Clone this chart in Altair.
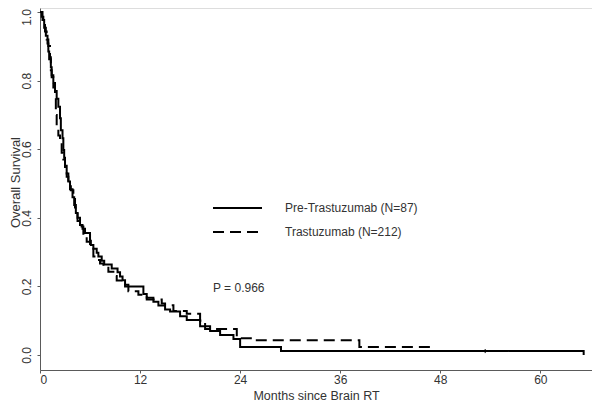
import altair as alt
import pandas as pd

# Pre-Trastuzumab (N=87): step curve (months, survival)
pre_months = [0, 0.3, 0.5, 0.7, 0.9, 1.0, 1.1, 1.3, 1.4, 1.6, 1.8, 2.0, 2.2, 2.4, 2.5, 2.7,
              2.8, 2.9, 3.0, 3.2, 3.4, 3.6, 3.9, 4.1, 4.3, 4.5, 4.8, 5.1, 5.4, 6.0, 6.1,
              6.4, 6.8, 7.0, 7.4, 7.7, 8.6, 9.3, 9.6, 9.9, 10.2, 12.4, 12.8, 13.6, 14.2,
              15.0, 15.6, 16.8, 17.6, 19.2, 20.4, 21.6, 23.2, 24.0, 28.9, 65.2]
pre_surv = [1.0, 0.977, 0.954, 0.931, 0.908, 0.885, 0.862, 0.839, 0.816, 0.793, 0.770, 0.747,
            0.724, 0.690, 0.655, 0.632, 0.598, 0.575, 0.552, 0.529, 0.506, 0.483, 0.460,
            0.437, 0.414, 0.391, 0.379, 0.368, 0.356, 0.333, 0.321, 0.310, 0.298, 0.287,
            0.275, 0.264, 0.252, 0.241, 0.229, 0.218, 0.200, 0.178, 0.167, 0.155, 0.144,
            0.133, 0.127, 0.113, 0.102, 0.084, 0.070, 0.058, 0.047, 0.023, 0.0115, 0.0]

# Trastuzumab (N=212)
tra_months = [0, 0.2, 0.4, 0.6, 0.8, 1.0, 1.2, 1.3, 1.4, 1.6, 1.8, 1.9, 2.0, 2.2, 2.4, 2.6,
              2.8, 3.0, 3.2, 3.4, 3.7, 4.0, 4.2, 4.5, 4.8, 5.2, 5.6, 6.0, 6.4, 6.8, 7.2,
              7.6, 8.2, 8.8, 9.2, 10.0, 10.6, 11.8, 12.8, 14.6, 15.0, 16.0, 17.6, 19.2,
              19.8, 23.6, 26.0, 38.3, 46.8]
tra_surv = [1.0, 0.986, 0.967, 0.943, 0.920, 0.901, 0.868, 0.830, 0.810, 0.780, 0.755, 0.700,
            0.667, 0.640, 0.620, 0.590, 0.570, 0.545, 0.520, 0.500, 0.480, 0.455, 0.430,
            0.400, 0.375, 0.345, 0.330, 0.316, 0.287, 0.277, 0.267, 0.258, 0.243, 0.230,
            0.217, 0.205, 0.186, 0.176, 0.162, 0.150, 0.145, 0.128, 0.120, 0.100, 0.076,
            0.049, 0.043, 0.023, 0.023]

censor_months = [53.4]
censor_surv = [0.0115]

groups = ["Pre-Trastuzumab (N=87)", "Trastuzumab (N=212)"]
x_ticks = [0, 12, 24, 36, 48, 60]
y_ticks = [0.0, 0.2, 0.4, 0.6, 0.8, 1.0]
p_text = "P = 0.966"

df = pd.concat([
    pd.DataFrame({"month": pre_months, "surv": pre_surv, "group": groups[0]}),
    pd.DataFrame({"month": tra_months, "surv": tra_surv, "group": groups[1]}),
])
cens = pd.DataFrame({"month": censor_months, "surv": censor_surv})

FONT = "Liberation Sans"
AX = "#5a5a5a"
TXT = "#333333"

xscale = alt.Scale(domain=[0, 66.2], nice=False, zero=False)
yscale = alt.Scale(domain=[-0.0437, 1.0117], nice=False, zero=False)

xaxis = alt.Axis(values=x_ticks, title="Months since Brain RT", grid=False, domainColor=AX,
                 tickColor=AX, tickSize=3, labelColor=TXT, labelFont=FONT, labelFontSize=12,
                 labelPadding=1.5, titleFont=FONT, titleFontSize=12.5, titleFontWeight="normal",
                 titleColor=TXT, titleY=29.5, titleBaseline="alphabetic")
yaxis = alt.Axis(values=y_ticks, format=".1f", title="Overall Survival", grid=False,
                 domainColor=AX, tickColor=AX, tickSize=3, labelColor=TXT, labelFont=FONT,
                 labelFontSize=12, labelAngle=-90, labelAlign="center",
                 labelBaseline="alphabetic", labelPadding=7,
                 labelOffset={"condition": {"test": "datum.value >= 1", "value": 5}, "value": 0},
                 titleFont=FONT, titleFontSize=13,
                 titleFontWeight="normal", titleColor=TXT, titleX=-21, titleY=174,
                 titleBaseline="alphabetic", titleAngle=-90, titleAlign="center")

lines = alt.Chart(df).mark_line(interpolate="step-after", color="black", strokeWidth=2).encode(
    x=alt.X("month:Q", scale=xscale, axis=xaxis),
    y=alt.Y("surv:Q", scale=yscale, axis=yaxis),
    strokeDash=alt.StrokeDash("group:N", scale=alt.Scale(domain=groups, range=[[1, 0], [11, 6]]),
                              legend=None),
    detail="group:N",
)

ticks = alt.Chart(cens).mark_tick(color="black", orient="vertical", size=4, thickness=1.5).encode(
    x=alt.X("month:Q", scale=xscale), y=alt.Y("surv:Q", scale=yscale)
)

leg1 = alt.Chart(pd.DataFrame({"g": [groups[0]]})).mark_rule(color="black", strokeWidth=2).encode(
    x=alt.value(173), x2=alt.value(222), y=alt.value(200))
leg2 = alt.Chart(pd.DataFrame({"g": [groups[1]]})).mark_rule(color="black", strokeWidth=2,
                                                             strokeDash=[11, 6]).encode(
    x=alt.value(173), x2=alt.value(222), y=alt.value(224))
legtext = alt.Chart(pd.DataFrame({"g": groups, "yy": [200, 224]})).mark_text(
    align="left", baseline="middle", font=FONT, fontSize=12, color=TXT).encode(
    text="g:N", x=alt.value(245), y=alt.Y("yy:Q", scale=None))
ptext = alt.Chart(pd.DataFrame({"t": [p_text]})).mark_text(
    align="left", baseline="middle", font=FONT, fontSize=12, color=TXT).encode(
    text="t:N", x=alt.value(173), y=alt.value(280))

chart = alt.layer(lines, ticks, leg1, leg2, legtext, ptext).properties(
    width=552, height=362,
    autosize=alt.AutoSizeParams(type="none"),
    padding={"left": 32, "top": 0, "right": 0, "bottom": 32},
).configure_view(stroke=None).configure(background="white")

chart.save("out.html", embed_options={"renderer": "svg", "actions": False})
